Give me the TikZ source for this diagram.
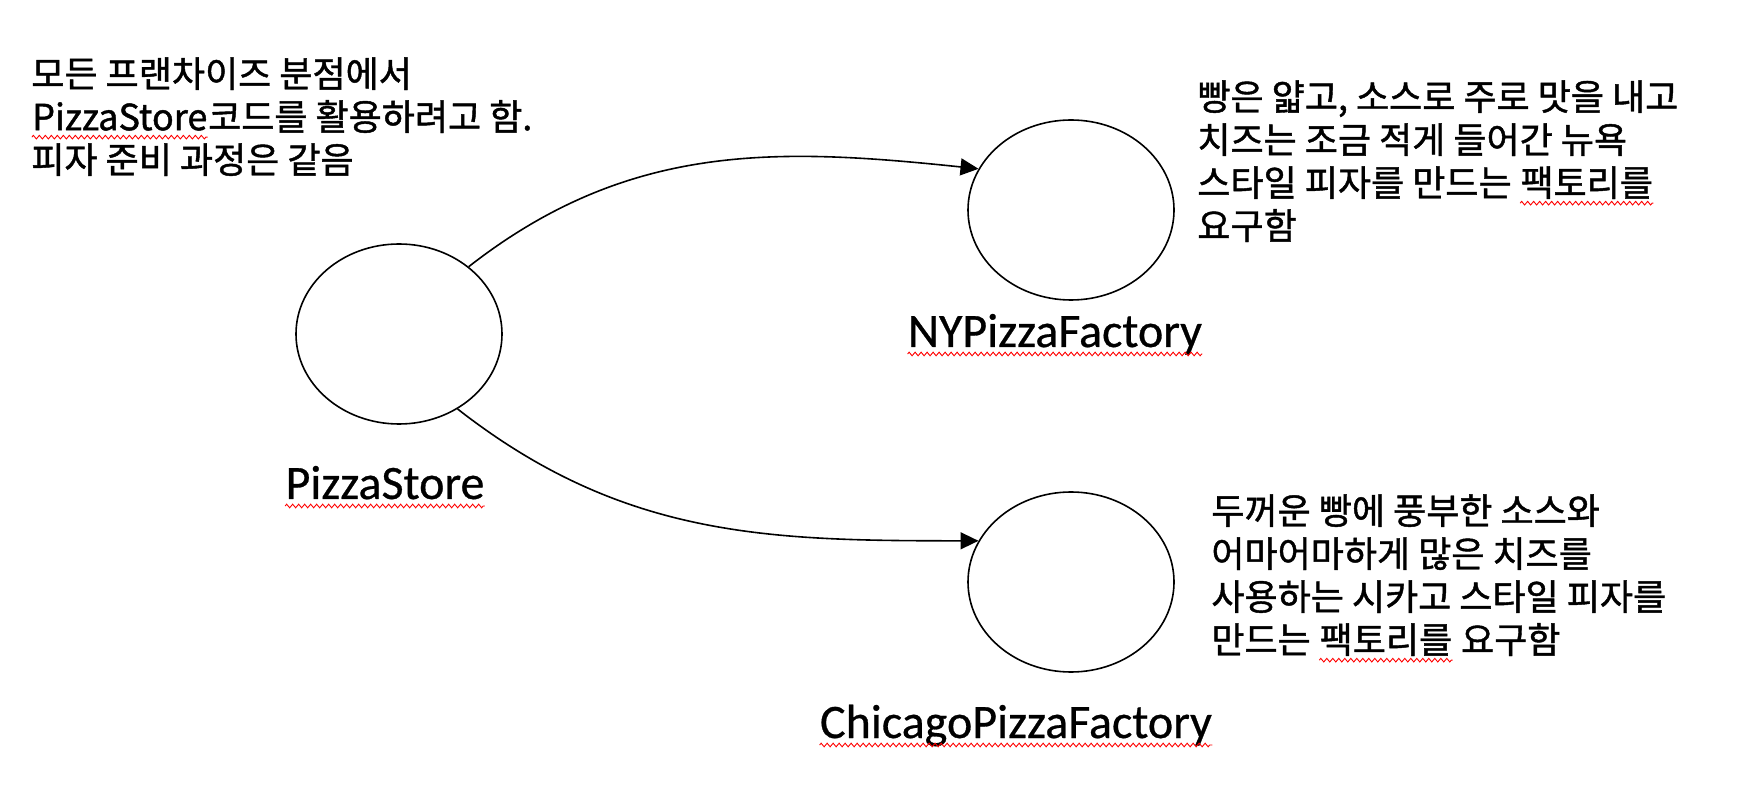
\documentclass[tikz,border=0pt]{standalone}
\usepackage{fontspec}
\setmainfont{Noto Sans CJK KR}
\newfontfamily\notefont{Noto Sans CJK KR}[FakeBold=1.2]
\newfontfamily\labelfont{Carlito}[FakeBold=0.6]
\usepackage{tikz}
\usetikzlibrary{arrows.meta, positioning, shapes.geometric, decorations.pathmorphing}
\def\storeW{103pt}
\def\storeH{90pt}

\tikzset{
    pizzablob/.style={draw, ellipse, line width=0.8pt, minimum width=\storeW, minimum height=\storeH},
    namelabel/.style={anchor=base, inner sep=0pt, font=\labelfont\fontsize{24pt}{28pt}\selectfont},
    notetext/.style={anchor=north west, inner sep=0pt, align=left, font=\notefont\fontsize{18pt}{21.5pt}\selectfont},
    linkarrow/.style={line width=0.8pt, -{Triangle[length=9pt, width=8.5pt]}},
    wavyline/.style={red, line width=0.45pt, decorate, decoration={zigzag, amplitude=0.9pt, segment length=3pt}}
}
% red wavy spell-check underline
\newcommand\squig[1]{\tikz[baseline=(w.base)]{\node[inner sep=0pt] (w) {#1};
    \draw[wavyline] ([yshift=-3.5pt]w.base west) -- ([yshift=-3.5pt]w.base east);}}

\begin{document}
\begin{tikzpicture}[x=0.5pt, y=0.5pt]
            % Page frame
            \path[fill=white] (0,0) rectangle (1750,-790);
            \useasboundingbox (0,0) rectangle (1750,-790);

            % Draw stores
            \node[pizzablob] (store) at (399,-334) {};
            \node[pizzablob] (ny) at (1071,-210) {};
            \node[pizzablob] (chicago) at (1071,-582) {};

            % Draw names
            \node[namelabel] (storeName) at (385,-499) {\squig{PizzaStore}};
            \node[namelabel] (nyName) at (1055,-347) {\squig{NYPizzaFactory}};
            \node[namelabel] (chicagoName) at (1016,-738) {\squig{ChicagoPizzaFactory}};

            % Draw notes
            \node[notetext] (storeNote) at (31,-57) {모든 프랜차이즈 분점에서\\\squig{PizzaStore}코드를 활용하려고 함.\\피자 준비 과정은 같음};
            \node[notetext] (nyNote) at (1197,-80) {빵은 얇고, 소스로 주로 맛을 내고\\치즈는 조금 적게 들어간 뉴욕\\스타일 피자를 만드는 \squig{팩토리를}\\요구함};
            \node[notetext] (chicagoNote) at (1211,-494) {두꺼운 빵에 풍부한 소스와\\어마어마하게 많은 치즈를\\사용하는 시카고 스타일 피자를\\만드는 \squig{팩토리를} 요구함};

            % Draw links
            \draw[linkarrow] (store.44) to[out=38, in=174] (ny.156);
            \draw[linkarrow] (store.-52) to[out=-38, in=180] (chicago.156);

        \end{tikzpicture}
\end{document}
